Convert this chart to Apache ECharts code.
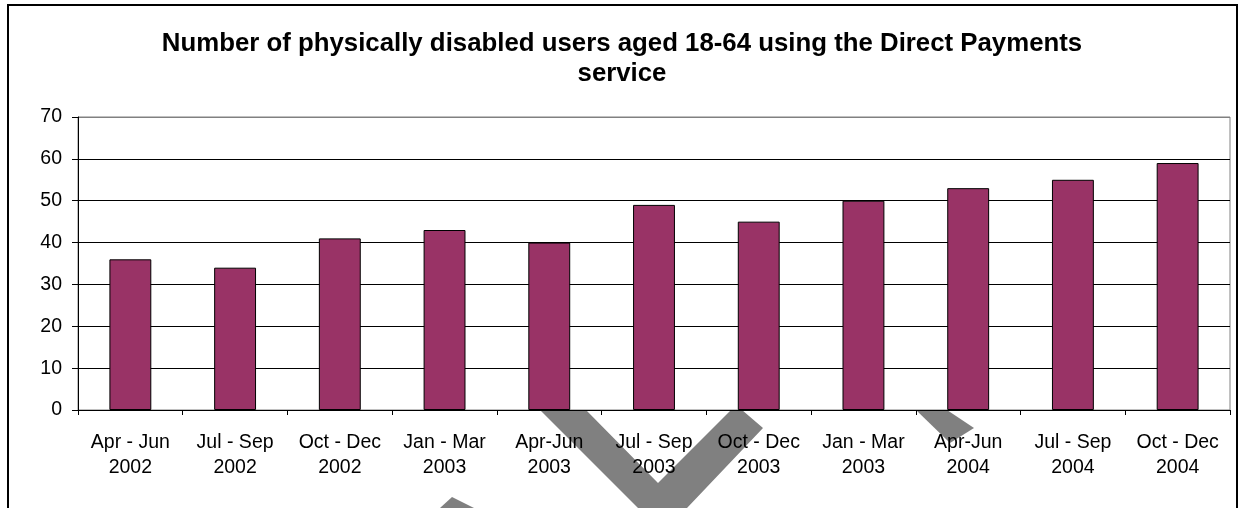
<!DOCTYPE html>
<html>
<head>
<meta charset="utf-8">
<script src="https://cdn.jsdelivr.net/npm/echarts@6/dist/echarts.min.js"></script>
<style>
  html, body { margin: 0; padding: 0; background: #fff; }
  #chart { width: 1244px; height: 508px; }
</style>
</head>
<body>
<div id="chart"></div>
<script>
// Quarterly periods and the number of users in each
const categories = [
  'Apr - Jun\n2002', 'Jul - Sep\n2002', 'Oct - Dec\n2002', 'Jan - Mar\n2003',
  'Apr-Jun\n2003', 'Jul - Sep\n2003', 'Oct - Dec\n2003', 'Jan - Mar\n2003',
  'Apr-Jun\n2004', 'Jul - Sep\n2004', 'Oct - Dec\n2004'
];
const users = [36, 34, 41, 43, 40, 49, 45, 50, 53, 55, 59];
const titleText = 'Number of physically disabled users aged 18-64 using the Direct Payments\nservice';

const chart = echarts.init(document.getElementById('chart'), null, { renderer: 'canvas' });

const FONT = '"Liberation Sans", Arial, sans-serif';

chart.setOption({
  animation: false,
  backgroundColor: '#ffffff',
  title: {
    text: titleText,
    left: 'center',
    top: 24,
    textStyle: {
      fontFamily: FONT,
      fontWeight: 'bold',
      fontSize: 25.8,
      lineHeight: 30,
      color: '#000'
    }
  },
  grid: {
    left: 78,
    right: 14,
    top: 117,
    bottom: 98,
    show: true,
    borderColor: '#808080',
    borderWidth: 1,
    backgroundColor: 'transparent'
  },
  xAxis: {
    type: 'category',
    data: categories,
    axisLine: { lineStyle: { color: '#000', width: 1 } },
    axisTick: { show: true, alignWithLabel: false, length: 5, lineStyle: { color: '#000' } },
    axisLabel: {
      interval: 0,
      margin: 20,
      fontFamily: FONT,
      fontSize: 19.5,
      lineHeight: 25,
      color: '#000'
    },
    splitLine: { show: false }
  },
  yAxis: {
    type: 'value',
    min: 0,
    max: 70,
    interval: 10,
    axisLine: { show: true, lineStyle: { color: '#000', width: 1 } },
    axisTick: { show: true, inside: false, length: 6, lineStyle: { color: '#000' } },
    axisLabel: {
      margin: 16,
      fontFamily: FONT,
      fontSize: 19.5,
      color: '#000'
    },
    splitLine: {
      show: true,
      lineStyle: {
        color: ['#000', '#000', '#000', '#000', '#000', '#000', '#000', '#808080'],
        width: 1
      }
    }
  },
  series: [{
    type: 'bar',
    data: users,
    barWidth: '40%',
    itemStyle: {
      color: '#993366',
      borderColor: '#000',
      borderWidth: 1
    }
  }],
  graphic: [
    // outer frame of the chart area
    {
      type: 'rect',
      z: 100,
      shape: { x: 8, y: 5, width: 1229, height: 520 },
      style: { fill: null, stroke: '#000', lineWidth: 2 }
    },
    // grey stamp strokes below the plot, behind the axis labels
    {
      type: 'polygon',
      z: 0,
      shape: { points: [[540, 410], [586, 410], [658, 483], [731, 410], [742, 410], [763, 428], [687, 508], [638, 508]] },
      style: { fill: '#808080' }
    },
    {
      type: 'polygon',
      z: 0,
      shape: { points: [[916, 410], [947, 410], [974, 428], [950, 443]] },
      style: { fill: '#808080' }
    },
    {
      type: 'polygon',
      z: 0,
      shape: { points: [[452, 497], [474, 508], [440, 508]] },
      style: { fill: '#808080' }
    }
  ]
});
</script>
</body>
</html>
